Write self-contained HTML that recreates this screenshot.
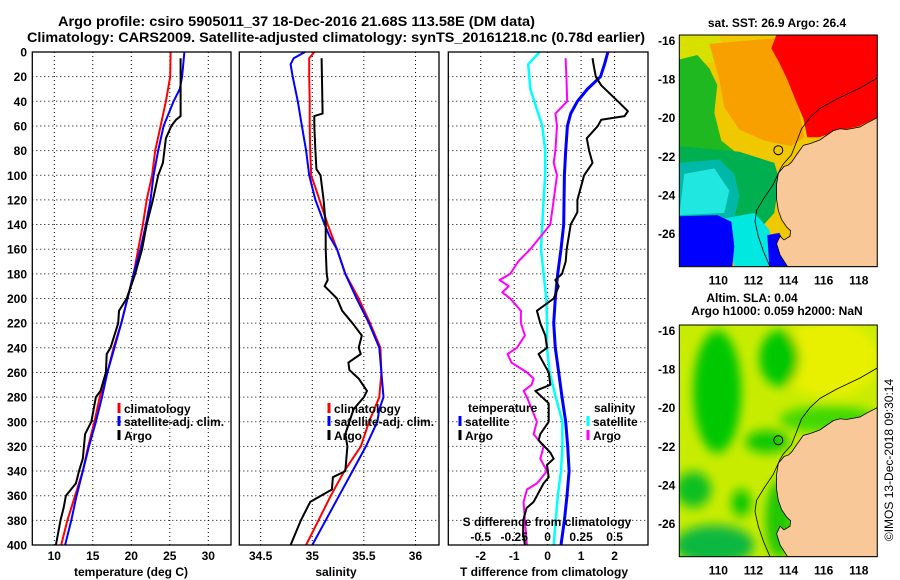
<!DOCTYPE html>
<html><head><meta charset="utf-8">
<style>
html,body{margin:0;padding:0;background:#fff;}
svg{display:block;font-family:"Liberation Sans",Arial,sans-serif;font-weight:bold;}
</style></head>
<body>
<svg id="fig" width="900" height="580" viewBox="0 0 900 580" xmlns="http://www.w3.org/2000/svg">
<text x="58" y="26" font-size="14" textLength="477" lengthAdjust="spacingAndGlyphs">Argo profile: csiro 5905011_37 18-Dec-2016 21.68S 113.58E (DM data)</text>
<text x="27" y="42" font-size="14" textLength="618" lengthAdjust="spacingAndGlyphs">Climatology: CARS2009. Satellite-adjusted climatology: synTS_20161218.nc (0.78d earlier)</text>
<g id="panels"></g>
<g id="maps"></g>
<text transform="translate(893,460) rotate(-90)" text-anchor="middle" font-size="12" font-weight="normal">©IMOS 13-Dec-2018 09:30:14</text>
</svg>
<script>
// ---------- Panel 1: temperature ----------
const climTDepth = [0,20,40,60,80,100,120,140,160,180,200,220,240,260,280,300,320,340,360,380,400];
const climT = [25.1,25.05,24.5,23.8,23.1,22.7,22.0,21.5,20.9,20.3,19.5,18.7,17.7,16.9,15.9,15.2,14.4,13.7,12.7,11.7,10.9];
const satTDepth = [0,20,30,40,60,80,100,120,140,160,180,200,220,240,260,280,300,320,340,360,380,400];
const satT = [26.9,26.6,26.3,25.5,24.2,23.5,22.9,22.5,21.9,21.2,20.3,19.5,18.7,17.8,16.9,16.2,15.4,14.5,13.7,12.9,12.2,11.4];
const argoTDepth = [5,52,55,60,70,80,90,100,120,140,160,180,200,210,220,240,245,260,275,280,300,310,330,340,350,360,370,380,400];
const argoT = [26.4,26.4,25.8,25.2,24.5,24.3,24.1,23.5,22.8,22.0,21.4,20.5,19.4,18.4,18.3,17.3,16.8,16.7,16.0,15.4,14.8,14.0,13.7,13.2,12.8,11.5,11.2,10.8,10.2];
const tTicks = [10,15,20,25,30];
const depthTicks = [0,20,40,60,80,100,120,140,160,180,200,220,240,260,280,300,320,340,360,380,400];

// ---------- Panel 2: salinity ----------
const climSDepth = [0,5,20,40,60,80,100,110,120,140,160,180,200,220,240,260,280,290,300,320,340,360,380,400];
const climS = [35.02,34.97,34.97,34.975,34.975,34.98,34.99,35.03,35.07,35.15,35.24,35.32,35.45,35.56,35.66,35.67,35.65,35.6,35.55,35.47,35.31,35.18,35.06,34.94];
const satSDepth = [0,5,10,20,40,60,80,100,110,120,140,150,160,180,200,220,240,260,280,290,300,320,340,360,380,400];
const satS = [34.93,34.82,34.79,34.81,34.86,34.90,34.94,34.97,35.0,35.03,35.12,35.17,35.24,35.32,35.43,35.55,35.65,35.67,35.69,35.65,35.63,35.52,35.39,35.26,35.13,35.0];
const argoSDepth = [5,50,52,60,80,95,100,120,140,160,180,185,190,200,210,220,230,240,245,252,258,265,275,280,290,300,310,320,340,345,355,365,380,400];
const argoS = [35.09,35.1,35.02,35.02,35.03,35.04,35.08,35.11,35.13,35.13,35.14,35.15,35.12,35.24,35.29,35.39,35.48,35.45,35.47,35.35,35.36,35.45,35.53,35.5,35.40,35.36,35.32,35.34,35.32,35.2,35.19,34.98,34.89,34.79];
const sTicks = [34.5,35,35.5,36];

// ---------- Panel 3: differences ----------
const dTSatDepth = [0,10,20,30,40,50,60,80,100,140,160,180,200,220,240,260,280,300,320,340,360,380,400];
const dTSat = [1.8,1.7,1.58,1.19,0.89,0.69,0.59,0.54,0.5,0.48,0.4,0.3,0.23,0.18,0.23,0.33,0.43,0.54,0.6,0.64,0.58,0.5,0.4];
const dTArgoDepth = [5,10,20,27,40,48,52,55,60,70,80,90,100,120,130,140,160,170,180,185,190,200,210,220,230,240,245,255,260,270,275,285,300,310,315,325,330,335,345,350,365,370,380,390,400];
const dTArgo = [1.34,1.37,1.44,1.6,2.1,2.4,2.3,1.6,1.5,1.17,1.24,1.34,1.09,0.89,0.89,0.69,0.57,0.54,0.43,0.23,0.33,0.18,-0.32,-0.22,-0.07,-0.02,-0.27,-0.07,0.03,0.08,-0.37,0.03,0.03,-0.22,-0.27,0.08,0.18,-0.02,0.03,-0.12,-0.42,-0.63,-0.73,-0.73,-0.68];
const dSSatDepth = [0,10,30,50,60,80,100,120,140,160,180,200,220,240,260,280,300,320,340,360,380,400];
const dSSat = [-0.06,-0.145,-0.13,-0.07,-0.04,-0.018,-0.018,-0.03,-0.04,-0.05,-0.03,-0.01,-0.005,-0.005,0.015,0.06,0.11,0.11,0.1,0.076,0.06,0.045];
const dSArgoDepth = [5,20,40,50,60,80,90,100,120,140,150,160,170,180,185,190,195,200,210,220,230,240,245,252,260,265,270,275,280,300,310,320,330,340,350,355,365,380,400];
const dSArgo = [0.134,0.14,0.146,0.058,0.07,0.058,0.045,0.07,0.045,0.02,-0.055,-0.13,-0.22,-0.28,-0.36,-0.29,-0.34,-0.28,-0.2,-0.2,-0.17,-0.23,-0.3,-0.27,-0.155,-0.105,-0.12,-0.18,-0.155,-0.08,-0.105,-0.03,-0.055,-0.005,-0.08,-0.155,-0.18,-0.17,-0.155];
const dTTicks = [-2,-1,0,1,2];
const dSTicks = [-0.5,-0.25,0,0.25,0.5];
const dSTickLabels = ['-0.5','-0.25','0','0.25','0.5'];

const NS = 'http://www.w3.org/2000/svg';
function mk(tag, attrs, parent){ const e=document.createElementNS(NS,tag); for(const k in attrs) e.setAttribute(k,attrs[k]); parent.appendChild(e); return e; }
const panelsG = document.getElementById('panels');
const Y0=52, Y1=545;
function yScale(d){ return Y0 + d/400*(Y1-Y0); }

function makePanel(name, x0, x1, dmin, dmax){
  const g = mk('g',{},panelsG);
  
  
  const sx = v => x0 + (v-dmin)/(dmax-dmin)*(x1-x0);
  return {g, sx, x0, x1};
}
function grid(p, xt){
  const gg = mk('g',{stroke:'#000','stroke-width':1,'stroke-dasharray':'1 3'},p.g);
  
  
  xt.forEach(v=>{ mk('line',{x1:p.sx(v),x2:p.sx(v),y1:Y0,y2:Y1},gg); });
  depthTicks.forEach(d=>{ mk('line',{x1:p.x0,x2:p.x1,y1:yScale(d),y2:yScale(d)},gg); });
}
function frame(p){
  const r = mk('rect',{x:p.x0,y:Y0,width:p.x1-p.x0,height:Y1-Y0,fill:'none',stroke:'#000','stroke-width':1.3},p.g);
  
  
}
function series(p, depths, vals, color, w, name, fx){
  const f = fx || p.sx;
  const pts = depths.map((d,i)=>f(vals[i]).toFixed(1)+','+yScale(d).toFixed(1)).join(' ');
  const pl = mk('polyline',{points:pts,fill:'none',stroke:color,'stroke-width':w,'stroke-linejoin':'round'},p.g);
  
  
}
function xticks(p, ticks, labels, y, fx, nm){
  const f = fx || p.sx;
  ticks.forEach((v,i)=>{
    const t = mk('text',{x:f(v),y:y,'text-anchor':'middle','font-size':12},p.g);
    t.textContent = labels ? labels[i] : String(v);
    
    
  });
}
function label(p, txt, x, y, anchor, size, nm){
  const t = mk('text',{x:x,y:y,'text-anchor':anchor,'font-size':size},p.g);
  t.textContent = txt;
  
  
  return t;
}
function legendEntry(p, x, y, color, txt, nm){
  const b = mk('line',{x1:x,x2:x,y1:y-10,y2:y,stroke:color,'stroke-width':3},p.g);
  
  
  label(p, txt, x+5, y, 'start', 12, nm);
}

// Panel 1
const p1 = makePanel('temperature-panel', 32.3, 231, 7.14, 32.95);
grid(p1, tTicks);
series(p1, climTDepth, climT, '#f00', 2, 'climatology-temperature-line');
series(p1, satTDepth, satT, '#00f', 2, 'satellite-temperature-line');
series(p1, argoTDepth, argoT, '#000', 2, 'argo-temperature-line');
frame(p1);
xticks(p1, tTicks, null, 560);
depthTicks.forEach(d=>{ label(p1, String(d), 27, yScale(d)+4.5, 'end', 12, 'y-tick-label'); });
label(p1, 'temperature (deg C)', 131, 576, 'middle', 12, 'x-axis-title-temperature');
legendEntry(p1, 119, 413, '#f00', 'climatology', 'legend-climatology');
legendEntry(p1, 119, 426, '#00f', 'satellite-adj. clim.', 'legend-satellite-adj');
legendEntry(p1, 119, 440, '#000', 'Argo', 'legend-argo');

// Panel 2
const p2 = makePanel('salinity-panel', 239.3, 439, 34.293, 36.228);
grid(p2, sTicks);
series(p2, climSDepth, climS, '#f00', 2, 'climatology-salinity-line');
series(p2, satSDepth, satS, '#00f', 2, 'satellite-salinity-line');
series(p2, argoSDepth, argoS, '#000', 2, 'argo-salinity-line');
frame(p2);
xticks(p2, sTicks, null, 560);
label(p2, 'salinity', 336, 576, 'middle', 12, 'x-axis-title-salinity');
legendEntry(p2, 329, 413, '#f00', 'climatology', 'legend-climatology');
legendEntry(p2, 329, 426, '#00f', 'satellite-adj. clim.', 'legend-satellite-adj');
legendEntry(p2, 329, 440, '#000', 'Argo', 'legend-argo');

// Panel 3
const p3 = makePanel('difference-panel', 448.3, 648, -2.97, 3.0);
const sxS = v => p3.sx(v*4);
grid(p3, dTTicks);
series(p3, dSSatDepth, dSSat, '#0ff', 2.5, 'salinity-satellite-diff-line', sxS);
series(p3, dSArgoDepth, dSArgo, '#f0f', 2, 'salinity-argo-diff-line', sxS);
series(p3, dTSatDepth, dTSat, '#00f', 3, 'temperature-satellite-diff-line');
series(p3, dTArgoDepth, dTArgo, '#000', 2, 'temperature-argo-diff-line');
frame(p3);
xticks(p3, dTTicks, null, 560);
xticks(p3, dSTicks, dSTickLabels, 541, sxS, 's-tick-label');
label(p3, 'S difference from climatology', 547, 526, 'middle', 12, 's-axis-title');
label(p3, 'T difference from climatology', 544, 576, 'middle', 12, 'x-axis-title-t-diff');
label(p3, 'temperature', 468, 412, 'start', 12, 'legend-temperature-heading');
legendEntry(p3, 460, 426, '#00f', 'satellite', 'legend-t-satellite');
legendEntry(p3, 460, 440, '#000', 'Argo', 'legend-t-argo');
label(p3, 'salinity', 594, 412, 'start', 12, 'legend-salinity-heading');
legendEntry(p3, 588, 426, '#0ff', 'satellite', 'legend-s-satellite');
legendEntry(p3, 588, 440, '#f0f', 'Argo', 'legend-s-argo');

// ---------- Maps ----------
const mapLatTicks = [-16,-18,-20,-22,-24,-26];
const mapLonTicks = [110,112,114,116,118];
const mapsG = document.getElementById('maps');
const MH = 231.7, SY = MH/208.4;
const LAND = '198,74.3 187.3,79.3 180.7,82.7 167.3,85 160.7,84.3 154,86 140.7,94.3 130.7,97.7 124,99.3 117.3,107.7 112.3,114.3 109,117 104.7,118.3 102.3,121 99,124.3 97.3,134.3 97.3,147.7 99,157.7 102.3,166 107.3,172.7 111.3,176 110.7,181 104.7,184.3 100.7,181 97.3,187.7 100.7,197.7 108.3,208.4 198,208.4';
const SHELF = '198,38.7 180.7,47.7 157.3,57.7 140.7,66 130.7,74.3 122.3,84.3 117.3,96 112,108 104,116 100.7,121 94,134.3 84,147.7 77.3,157.7 75.7,167.7 79,181 84,194.3 90.7,208.4';
function makeMap(name, ox, oy, fills){
  const g = mk('g',{transform:`translate(${ox},${oy})`},mapsG);
  
  
  const cid = name+'-clip';
  const cp = mk('clipPath',{id:cid},g); mk('rect',{x:0,y:0,width:198,height:MH},cp);
  const outer = mk('g',{'clip-path':`url(#${cid})`},g);
  const inner = mk('g',{transform:`scale(1,${SY})`},outer);
  fills(inner);
  const land = mk('polygon',{points:LAND,fill:'#f9c898',stroke:'#000','stroke-width':0.8,'vector-effect':'non-scaling-stroke'},inner);
  
  
  const sh = mk('polyline',{points:SHELF,fill:'none',stroke:'#000','stroke-width':0.8,'vector-effect':'non-scaling-stroke'},inner);
  
  
  const c = mk('circle',{cx:99,cy:115.2,r:4.5,fill:'none',stroke:'#000','stroke-width':1},outer);
  
  
  const f = mk('rect',{x:0,y:0,width:198,height:MH,fill:'none',stroke:'#000','stroke-width':1},g);
  
  
  mapLatTicks.forEach(lat=>{
    const y = (-15.72-lat)*19.33;
    const t = mk('text',{x:-4,y:y+4.5,'text-anchor':'end','font-size':12},g);
    t.textContent = String(lat);
    
    
  });
  mapLonTicks.forEach(lon=>{
    const x = (lon-107.78)*17.56;
    const t = mk('text',{x:x,y:MH+18,'text-anchor':'middle','font-size':12},g);
    t.textContent = String(lon);
    
    
  });
}
function poly(parent, pts, color){ mk('polygon',{points:pts,fill:color},parent); }
makeMap('sst-map', 679.3, 35, g=>{
  mk('rect',{x:0,y:0,width:198,height:209,fill:'#f0c800'},g);
  poly(g,'0,0 40,0 45,20 30,25 0,25','#d8e000');
  poly(g,'0,22 18,18 30,30 38,45 35,70 42,95 60,108 0,112','#20b820');
  poly(g,'30,8 95,3 110,30 118,60 125,92 112,100 85,95 60,85 45,65 40,40','#f8a000');
  poly(g,'97,0 198,0 198,74 180,82 160,86 140,92 128,92 124,75 116,58 108,40 100,25 92,12','#ff0000');
  poly(g,'0,100 60,105 95,115 100,130 95,160 80,175 0,175','#00b050');
  poly(g,'0,115 40,112 55,125 60,145 55,165 0,168','#00b8a8');
  poly(g,'5,125 35,120 50,140 45,160 0,162','#20e8e0');
  poly(g,'45,165 75,160 90,175 95,208 55,208 48,185','#00e8e0');
  poly(g,'0,163 38,162 52,168 55,190 53,208 0,208','#0000ff');
  poly(g,'88,180 100,178 110,195 110,208 90,208','#0000ff');
});
makeMap('sla-map', 679.3, 325, g=>{
  const fid='slablur';
  const fl = mk('filter',{id:fid,x:'-20%',y:'-20%',width:'140%',height:'140%'},g);
  mk('feGaussianBlur',{stdDeviation:5},fl);
  mk('rect',{x:0,y:0,width:198,height:209,fill:'#c8ec00'},g);
  const b = mk('g',{filter:`url(#${fid})`},g);
  mk('ellipse',{cx:150,cy:30,rx:50,ry:35,fill:'#e8f000'},b);
  mk('ellipse',{cx:38,cy:60,rx:24,ry:55,fill:'#00c800'},b);
  mk('ellipse',{cx:100,cy:30,rx:20,ry:25,fill:'#00c800'},b);
  mk('ellipse',{cx:88,cy:105,rx:22,ry:10,fill:'#10c800'},b);
  mk('ellipse',{cx:14,cy:148,rx:18,ry:16,fill:'#10c020'},b);
  mk('ellipse',{cx:62,cy:160,rx:10,ry:12,fill:'#10c800'},b);
  mk('ellipse',{cx:35,cy:198,rx:40,ry:18,fill:'#10b840'},b);
  mk('ellipse',{cx:150,cy:85,rx:50,ry:12,fill:'#40d800'},b);
  mk('ellipse',{cx:100,cy:175,rx:14,ry:35,fill:'#20c800'},b);
});
const mt = [['sst-map-title','sat. SST: 26.9 Argo: 26.4',777,27],['sla-map-title','Altim. SLA: 0.04',752,302],['argo-height-title','Argo h1000: 0.059 h2000: NaN',777,315]];
mt.forEach(m=>{
  const t = mk('text',{x:m[2],y:m[3],'text-anchor':'middle','font-size':12},mapsG);
  t.textContent = m[1];
  
  
});
</script>
</body></html>
